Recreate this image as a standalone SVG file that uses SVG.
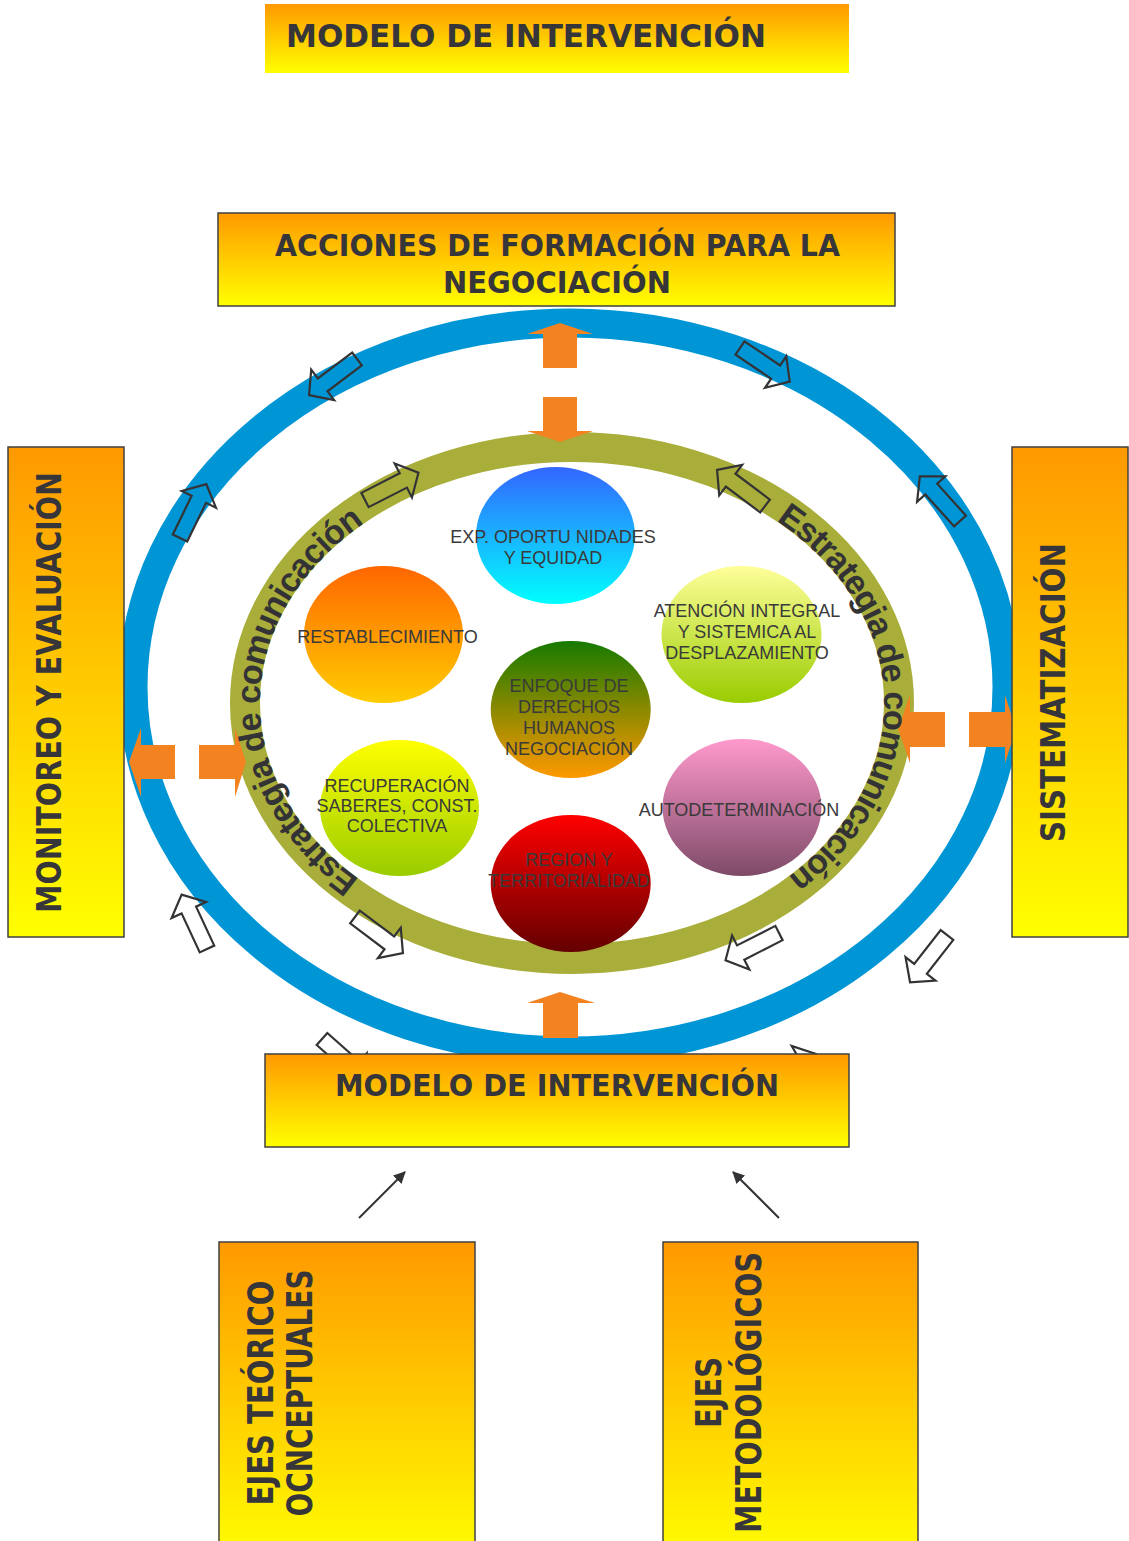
<svg xmlns="http://www.w3.org/2000/svg" xmlns:xlink="http://www.w3.org/1999/xlink" width="1129" height="1541" viewBox="0 0 1129 1541">
<style>
.box{stroke:#404040;stroke-width:1.5;fill:url(#gBox)}
.ttl{font-family:"DejaVu Sans","Liberation Sans",sans-serif;font-weight:bold;fill:#36363a}
.ctx{font-family:"Liberation Sans",Arial,sans-serif;font-size:18px;fill:#3a3a3a;text-anchor:middle}
.curv{font-family:"Liberation Sans",Arial,sans-serif;font-weight:bold;font-size:34px;letter-spacing:-1px;fill:#333336}
.orange{fill:#F38321}
.hol{fill:none;stroke:#333336;stroke-width:2.2;stroke-linejoin:miter}
.thin{stroke:#333336;stroke-width:2;fill:none}
</style>
<defs>
<linearGradient id="gBox" x1="0" y1="0" x2="0" y2="1"><stop offset="0" stop-color="#FF9900"/><stop offset="1" stop-color="#FFFF00"/></linearGradient>
<linearGradient id="gC1" x1="0" y1="0" x2="0" y2="1"><stop offset="0" stop-color="#3366FF"/><stop offset="1" stop-color="#00FFFF"/></linearGradient>
<linearGradient id="gC2" x1="0" y1="0" x2="0" y2="1"><stop offset="0" stop-color="#FF6600"/><stop offset="1" stop-color="#FFCC00"/></linearGradient>
<linearGradient id="gC3" x1="0" y1="0" x2="0" y2="1"><stop offset="0" stop-color="#FFFF99"/><stop offset="1" stop-color="#99CC00"/></linearGradient>
<linearGradient id="gC4" x1="0" y1="0" x2="0" y2="1"><stop offset="0" stop-color="#167A00"/><stop offset="1" stop-color="#FF9900"/></linearGradient>
<linearGradient id="gC5" x1="0" y1="0" x2="0" y2="1"><stop offset="0" stop-color="#FFFF00"/><stop offset="1" stop-color="#99CC00"/></linearGradient>
<linearGradient id="gC6" x1="0" y1="0" x2="0" y2="1"><stop offset="0" stop-color="#FF0000"/><stop offset="1" stop-color="#640000"/></linearGradient>
<linearGradient id="gC7" x1="0" y1="0" x2="0" y2="1"><stop offset="0" stop-color="#FF99CC"/><stop offset="1" stop-color="#7E4A68"/></linearGradient>
<path id="ha" d="M0,-8 H43 V-19 L60,0 L43,19 V8 H0 Z"/>
<path id="tpL" d="M416,911.7 A312,241 0 0 1 420.7,492.2"/>
<path id="tpR" d="M718.5,490.2 A312,241 0 0 1 732.7,909.6"/>
<marker id="mk" viewBox="0 0 12 12" refX="11" refY="6" markerWidth="12" markerHeight="12" markerUnits="userSpaceOnUse" orient="auto"><path d="M0,0 L12,6 L0,12 Z" fill="#333336"/></marker>
</defs>

<g id="rings">
<ellipse id="outer-ring" cx="570" cy="687" rx="437" ry="364" fill="none" stroke="#0096D6" stroke-width="29"/>
<ellipse id="inner-ring" cx="572" cy="703" rx="327" ry="256" fill="none" stroke="#A8AE39" stroke-width="30"/>
</g>

<g id="connectors">
<polygon class="orange" points="560,323 593,334 577,334 577,368 543,368 543,334 527,334"/>
<polygon class="orange" points="543,397 577,397 577,431 593,431 560,442 527,431 543,431"/>
<polygon class="orange" points="129,762 141,728 141,745 175,745 175,779 141,779 141,797"/>
<polygon class="orange" points="199,745 235,745 235,728 246,762 235,797 235,779 199,779"/>
<polygon class="orange" points="898,729 910,695 910,712 945,712 945,747 910,747 910,763"/>
<polygon class="orange" points="969,712 1005,712 1005,695 1016,729 1005,763 1005,747 969,747"/>
<polygon class="orange" points="560,992 595,1003 578,1003 578,1038 543,1038 543,1003 527,1003"/>

<use xlink:href="#ha" class="hol" transform="translate(357,359) rotate(143)"/>
<use xlink:href="#ha" class="hol" transform="translate(180,538) rotate(-64)"/>
<use xlink:href="#ha" class="hol" transform="translate(740,348) rotate(34)"/>
<use xlink:href="#ha" class="hol" transform="translate(960,521) rotate(-132)"/>
<use xlink:href="#ha" class="hol" transform="translate(947,935) rotate(128)"/>
<use xlink:href="#ha" class="hol" transform="translate(207,949) rotate(-115)"/>
<use xlink:href="#ha" class="hol" transform="translate(322,1039) rotate(41.6)"/>
<use xlink:href="#ha" class="hol" transform="translate(764,1084) rotate(-30)"/>

<use xlink:href="#ha" class="hol" transform="translate(365,500) rotate(-27)"/>
<use xlink:href="#ha" class="hol" transform="translate(765,506) rotate(-143)"/>
<use xlink:href="#ha" class="hol" transform="translate(355,917) rotate(37)"/>
<use xlink:href="#ha" class="hol" transform="translate(779,933) rotate(153)"/>

<line class="thin" x1="359" y1="1218" x2="405" y2="1172" marker-end="url(#mk)"/>
<line class="thin" x1="779" y1="1218" x2="733" y2="1172" marker-end="url(#mk)"/>
</g>

<g id="c-exp">
<ellipse cx="555.5" cy="535.5" rx="79.5" ry="68.5" fill="url(#gC1)"/>
<text class="ctx" x="553" y="543">EXP. OPORTU NIDADES</text>
<text class="ctx" x="553" y="564">Y EQUIDAD</text>
</g>
<g id="c-restablecimiento">
<ellipse cx="383.5" cy="634.5" rx="79.5" ry="68.5" fill="url(#gC2)"/>
<text class="ctx" x="387.5" y="643">RESTABLECIMIENTO</text>
</g>
<g id="c-atencion">
<ellipse cx="741.5" cy="634.5" rx="80" ry="68.5" fill="url(#gC3)"/>
<text class="ctx" x="747" y="617">ATENCIÓN INTEGRAL</text>
<text class="ctx" x="747" y="638">Y SISTEMICA AL</text>
<text class="ctx" x="747" y="659">DESPLAZAMIENTO</text>
</g>
<g id="c-enfoque">
<ellipse cx="570.7" cy="709.5" rx="80" ry="68.5" fill="url(#gC4)"/>
<text class="ctx" x="569" y="692">ENFOQUE DE</text>
<text class="ctx" x="569" y="713">DERECHOS</text>
<text class="ctx" x="569" y="734">HUMANOS</text>
<text class="ctx" x="569" y="755">NEGOCIACIÓN</text>
</g>
<g id="c-recuperacion">
<ellipse cx="399.5" cy="808" rx="79.5" ry="68" fill="url(#gC5)"/>
<text class="ctx" x="397" y="792">RECUPERACIÓN</text>
<text class="ctx" x="397" y="812">SABERES, CONST.</text>
<text class="ctx" x="397" y="832">COLECTIVA</text>
</g>
<g id="c-region">
<ellipse cx="570.7" cy="883.5" rx="80" ry="68.5" fill="url(#gC6)"/>
<text class="ctx" x="569" y="866">REGION Y</text>
<text class="ctx" x="569" y="887">TERRITORIALIDAD</text>
</g>
<g id="c-autodeterminacion">
<ellipse cx="742" cy="807.5" rx="79.5" ry="68.5" fill="url(#gC7)"/>
<text class="ctx" x="739" y="816">AUTODETERMINACIÓN</text>
</g>

<g id="estrategia-left">
<text class="curv"><textPath xlink:href="#tpL" startOffset="50%" text-anchor="middle">Estrategia de comunicación</textPath></text>
</g>
<g id="estrategia-right">
<text class="curv"><textPath xlink:href="#tpR" startOffset="50%" text-anchor="middle">Estrategia de comunicación</textPath></text>
</g>

<g id="title">
<rect x="265" y="4" width="584" height="69" fill="url(#gBox)"/>
<text class="ttl" x="286" y="47" font-size="32" textLength="480" lengthAdjust="spacingAndGlyphs">MODELO DE INTERVENCIÓN</text>
</g>
<g id="acciones">
<rect class="box" x="218" y="213" width="677" height="93"/>
<text class="ttl" x="557.5" y="256" font-size="31" text-anchor="middle" textLength="565" lengthAdjust="spacingAndGlyphs">ACCIONES DE FORMACIÓN PARA LA</text>
<text class="ttl" x="557" y="293" font-size="31" text-anchor="middle" textLength="228" lengthAdjust="spacingAndGlyphs">NEGOCIACIÓN</text>
</g>
<g id="monitoreo">
<rect class="box" x="8" y="447" width="116" height="490"/>
<text class="ttl" transform="translate(61,692.5) rotate(-90)" font-size="34" text-anchor="middle" textLength="441" lengthAdjust="spacingAndGlyphs">MONITOREO Y EVALUACIÓN</text>
</g>
<g id="sistematizacion">
<rect class="box" x="1012" y="447" width="116" height="490"/>
<text class="ttl" transform="translate(1065,692.5) rotate(-90)" font-size="34" text-anchor="middle" textLength="299" lengthAdjust="spacingAndGlyphs">SISTEMATIZACIÓN</text>
</g>
<g id="modelo">
<rect class="box" x="265" y="1054" width="584" height="93"/>
<text class="ttl" x="557" y="1096" font-size="31" text-anchor="middle" textLength="444" lengthAdjust="spacingAndGlyphs">MODELO DE INTERVENCIÓN</text>
</g>
<g id="ejes-teoricos">
<rect class="box" x="219" y="1242" width="256" height="320"/>
<text class="ttl" transform="translate(273,1393) rotate(-90)" font-size="35" text-anchor="middle" textLength="225" lengthAdjust="spacingAndGlyphs">EJES TEÓRICO</text>
<text class="ttl" transform="translate(312,1393) rotate(-90)" font-size="35" text-anchor="middle" textLength="247" lengthAdjust="spacingAndGlyphs">OCNCEPTUALES</text>
</g>
<g id="ejes-metodologicos">
<rect class="box" x="663" y="1242" width="255" height="320"/>
<text class="ttl" transform="translate(721,1392.5) rotate(-90)" font-size="35" text-anchor="middle" textLength="71" lengthAdjust="spacingAndGlyphs">EJES</text>
<text class="ttl" transform="translate(761,1392.5) rotate(-90)" font-size="35" text-anchor="middle" textLength="281" lengthAdjust="spacingAndGlyphs">METODOLÓGICOS</text>
</g>
</svg>
